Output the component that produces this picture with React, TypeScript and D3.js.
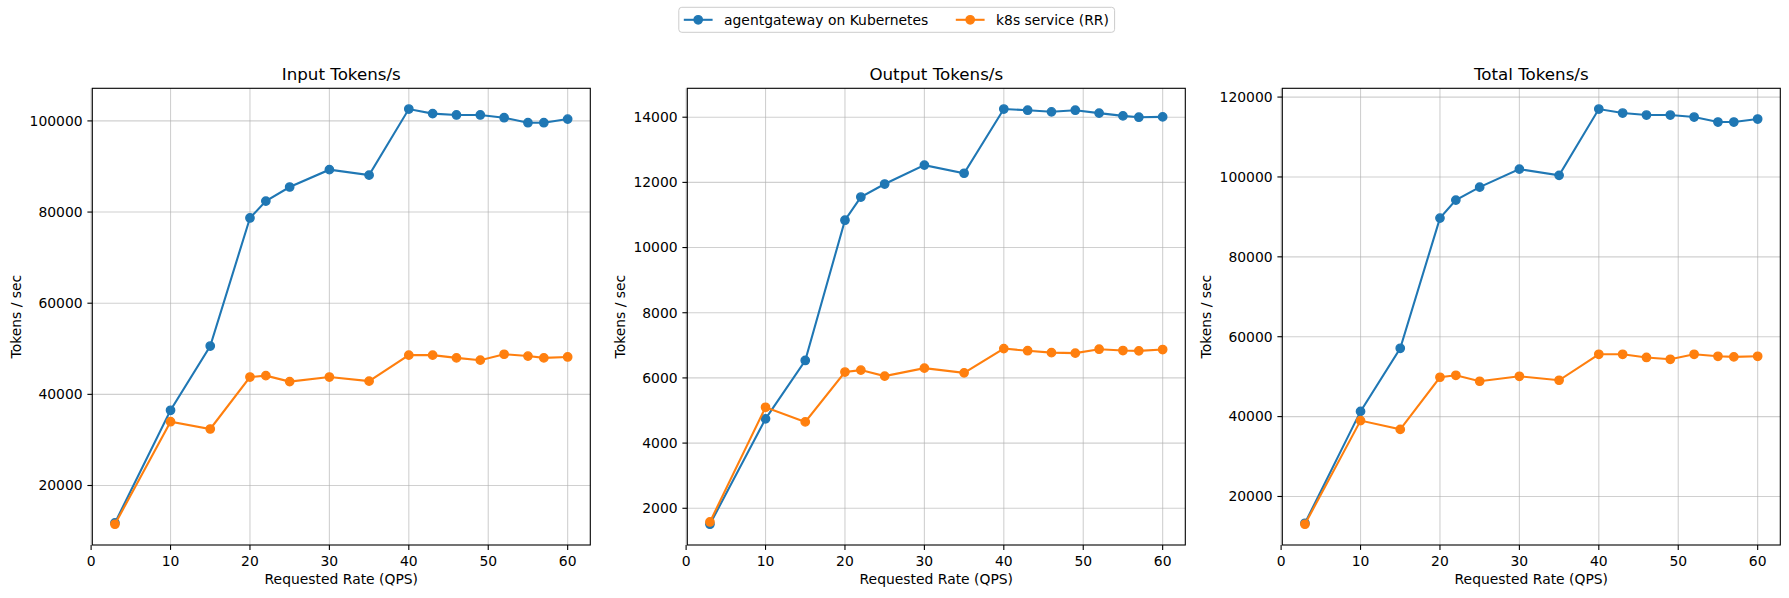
import { useEffect } from 'react';
import * as d3 from 'd3';

// requested rate (QPS) on the x axis
const RATES = [3, 10, 15, 20, 22, 25, 30, 35, 40, 43, 46, 49, 52, 55, 57, 60];

const AGENT_INPUT = [11800, 36500, 50600, 78700, 82400, 85500, 89300, 88100, 102600, 101600, 101300, 101300, 100700, 99600, 99600, 100400];
const K8S_INPUT = [11500, 34000, 32400, 43800, 44100, 42800, 43800, 42900, 48600, 48600, 48000, 47500, 48800, 48400, 48000, 48200];

const AGENT_OUTPUT = [1510, 4745, 6535, 10840, 11550, 11950, 12530, 12280, 14250, 14215, 14165, 14215, 14125, 14040, 14000, 14010];
const K8S_OUTPUT = [1580, 5100, 4650, 6180, 6240, 6055, 6300, 6155, 6900, 6835, 6775, 6760, 6880, 6840, 6830, 6870];

const AGENT_TOTAL = [13300, 41300, 57100, 89700, 94200, 97450, 101950, 100400, 117000, 116000, 115500, 115500, 115000, 113750, 113750, 114500];
const K8S_TOTAL = [13050, 39000, 36800, 49850, 50350, 48850, 50100, 49100, 55600, 55600, 54800, 54350, 55600, 55100, 54950, 55100];

const X_TICKS = [0, 10, 20, 30, 40, 50, 60];
const INPUT_TICKS = [20000, 40000, 60000, 80000, 100000];
const OUTPUT_TICKS = [2000, 4000, 6000, 8000, 10000, 12000, 14000];
const TOTAL_TICKS = [20000, 40000, 60000, 80000, 100000, 120000];

const SERIES_NAMES = ['agentgateway on Kubernetes', 'k8s service (RR)'];
const COLORS = ['#1f77b4', '#ff7f0e'];

const W = 1789;
const H = 598;
const FONT = 'DejaVu Sans, sans-serif';
const TOP = 88.3;
const BOTTOM = 545;
const PANEL_W = 498;

interface Panel {
  title: string;
  left: number;
  ylabelX: number;
  ticks: number[];
  series: number[][];
}

const PANELS: Panel[] = [
  { title: 'Input Tokens/s', left: 92.3, ylabelX: 15.7, ticks: INPUT_TICKS, series: [AGENT_INPUT, K8S_INPUT] },
  { title: 'Output Tokens/s', left: 687.3, ylabelX: 620, ticks: OUTPUT_TICKS, series: [AGENT_OUTPUT, K8S_OUTPUT] },
  { title: 'Total Tokens/s', left: 1282.3, ylabelX: 1205.7, ticks: TOTAL_TICKS, series: [AGENT_TOTAL, K8S_TOTAL] },
];

function padded(values: number[]): [number, number] {
  const [lo, hi] = d3.extent(values) as [number, number];
  const m = (hi - lo) * 0.05;
  return [lo - m, hi + m];
}

function PanelView({ p }: { p: Panel }) {
  const x = d3.scaleLinear().domain(padded(RATES)).range([p.left, p.left + PANEL_W]);
  const y = d3.scaleLinear().domain(padded(p.series.flat())).range([BOTTOM, TOP]);
  const line = d3.line<number>().x((_, i) => x(RATES[i])).y(d => y(d));
  const right = p.left + PANEL_W;

  return (
    <g>
      {/* grid */}
      {X_TICKS.map(t => (
        <line key={'gx' + t} x1={x(t)} x2={x(t)} y1={TOP} y2={BOTTOM} stroke="#b0b0b0" strokeOpacity={0.6} strokeWidth={1.1} />
      ))}
      {p.ticks.map(t => (
        <line key={'gy' + t} x1={p.left} x2={right} y1={y(t)} y2={y(t)} stroke="#b0b0b0" strokeOpacity={0.6} strokeWidth={1.1} />
      ))}

      {/* series */}
      {p.series.map((s, si) => (
        <g key={si}>
          <path d={line(s) ?? ''} fill="none" stroke={COLORS[si]} strokeWidth={2.08} />
          {s.map((v, i) => (
            <circle key={i} cx={x(RATES[i])} cy={y(v)} r={4.17} fill={COLORS[si]} stroke={COLORS[si]} strokeWidth={1.39} />
          ))}
        </g>
      ))}

      {/* frame */}
      <rect x={p.left} y={TOP} width={PANEL_W} height={BOTTOM - TOP} fill="none" stroke="#000" strokeWidth={1.1} />

      {/* x ticks */}
      {X_TICKS.map(t => (
        <g key={'tx' + t}>
          <line x1={x(t)} x2={x(t)} y1={BOTTOM} y2={BOTTOM + 4.9} stroke="#000" strokeWidth={1.1} />
          <text x={x(t)} y={565.5} textAnchor="middle" fontSize={13.9} fontFamily={FONT} fill="#000">{t}</text>
        </g>
      ))}
      {/* y ticks */}
      {p.ticks.map(t => (
        <g key={'ty' + t}>
          <line x1={p.left - 4.9} x2={p.left} y1={y(t)} y2={y(t)} stroke="#000" strokeWidth={1.1} />
          <text x={p.left - 9.7} y={y(t)} dy="0.35em" textAnchor="end" fontSize={13.9} fontFamily={FONT} fill="#000">{t}</text>
        </g>
      ))}

      <text x={(p.left + right) / 2} y={80} textAnchor="middle" fontSize={16.7} fontFamily={FONT} fill="#000">{p.title}</text>
      <text x={(p.left + right) / 2} y={583.5} textAnchor="middle" fontSize={13.9} fontFamily={FONT} fill="#000">Requested Rate (QPS)</text>
      <text transform={`translate(${p.ylabelX},${(TOP + BOTTOM) / 2}) rotate(-90)`} dy="0.35em" textAnchor="middle" fontSize={13.9} fontFamily={FONT} fill="#000">Tokens / sec</text>
    </g>
  );
}

function Legend() {
  const handleX = [683.8, 955.8];
  const cy = 19.8;
  return (
    <g>
      <rect x={678.8} y={7.3} width={435.8} height={25} rx={3} fill="#fff" fillOpacity={0.8} stroke="#cccccc" strokeWidth={1} />
      {SERIES_NAMES.map((name, i) => (
        <g key={name}>
          <line x1={handleX[i]} x2={handleX[i] + 28.8} y1={cy} y2={cy} stroke={COLORS[i]} strokeWidth={2.08} />
          <circle cx={handleX[i] + 14.4} cy={cy} r={4.17} fill={COLORS[i]} stroke={COLORS[i]} strokeWidth={1.39} />
          <text x={handleX[i] + 40.2} y={cy} dy="0.35em" fontSize={13.9} fontFamily={FONT} fill="#000">{name}</text>
        </g>
      ))}
    </g>
  );
}

export default function App() {
  useEffect(() => {
    document.body.style.margin = '0';
  }, []);

  return (
    <div style={{ position: 'absolute', left: 0, top: 0 }}>
      <svg width={W} height={H} style={{ display: 'block', background: '#fff' }}>
        <rect width={W} height={H} fill="#fff" />
        {PANELS.map(p => <PanelView key={p.title} p={p} />)}
        <Legend />
      </svg>
    </div>
  );
}
